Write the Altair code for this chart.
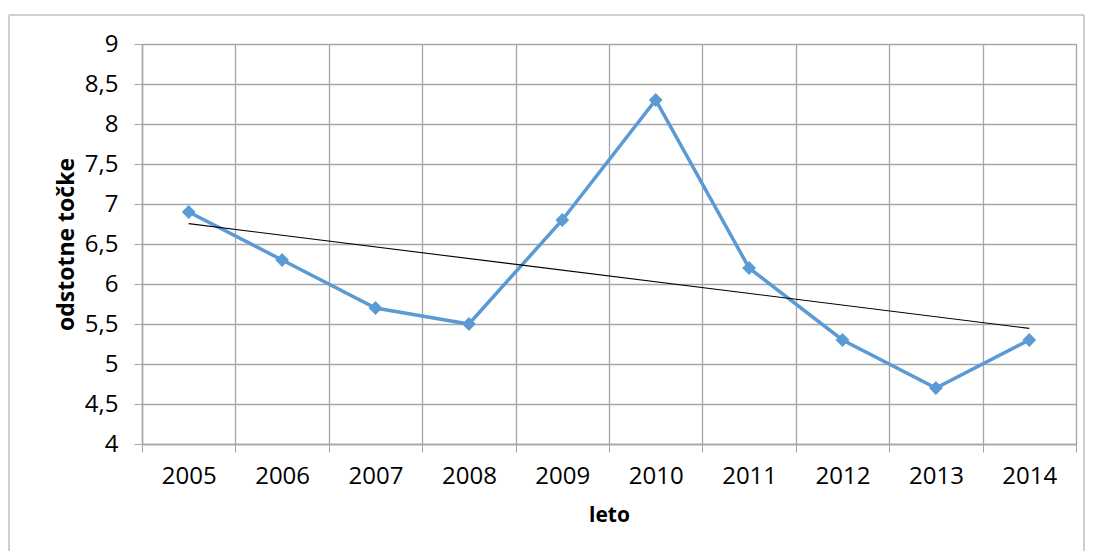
import altair as alt
import pandas as pd

years = [2005, 2006, 2007, 2008, 2009, 2010, 2011, 2012, 2013, 2014]
values = [6.9, 6.3, 5.7, 5.5, 6.8, 8.3, 6.2, 5.3, 4.7, 5.3]
y_ticks = [4, 4.5, 5, 5.5, 6, 6.5, 7, 7.5, 8, 8.5, 9]

df = pd.DataFrame({"leto": years, "vrednost": values})

FONT = "Open Sans"
GRID = "#A6A6A6"
BLUE = "#5B9BD5"
W, H = 934, 400

x_enc = alt.X(
    "leto:O",
    bandPosition=0.5,
    scale=alt.Scale(type="band", paddingInner=0, paddingOuter=0),
    axis=alt.Axis(
        title="leto",
        labelAngle=0,
        tickBand="extent",
        grid=True,
        gridColor=GRID,
        gridWidth=1.3,
        domainColor=GRID,
        domainWidth=1.5,
        tickColor=GRID,
        tickSize=8,
        labelFont=FONT,
        labelFontSize=24,
        labelColor="#000000",
        labelPadding=12,
        labelOverlap=False,
        titleFont=FONT,
        titleFontSize=21,
        titleFontWeight="bold",
        titleColor="#000000",
        titlePadding=16,
    ),
)

y_enc = alt.Y(
    "vrednost:Q",
    scale=alt.Scale(domain=[4, 9], nice=False, zero=False),
    axis=alt.Axis(
        title="odstotne točke",
        values=y_ticks,
        labelExpr="replace(toString(datum.value), '.', ',')",
        labelOverlap=False,
        grid=True,
        gridColor=GRID,
        gridWidth=1.3,
        domainColor=GRID,
        domainWidth=1.5,
        tickColor=GRID,
        tickSize=8,
        labelFont=FONT,
        labelFontSize=24,
        labelColor="#000000",
        labelPadding=16,
        titleFont=FONT,
        titleFontSize=23,
        titleFontWeight="bold",
        titleColor="#000000",
        titlePadding=6,
    ),
)

base = alt.Chart(df)

line = base.mark_line(color=BLUE, strokeWidth=3.5).encode(x=x_enc, y=y_enc)
pts = base.mark_point(shape="diamond", filled=True, opacity=1, color=BLUE, size=190).encode(x=x_enc, y=y_enc)

trend = (
    base.transform_regression("leto", "vrednost", method="linear")
    .mark_line(color="#000000", strokeWidth=1.1)
    .encode(x=x_enc, y=y_enc)
)

frame_data = alt.Data(values=[{"k": 1}])
BORDER = "#BFBFBF"
top_rule = alt.Chart(frame_data).mark_rule(color=BORDER, strokeWidth=1.5).encode(
    x=alt.value(-133), x2=alt.value(942), y=alt.value(-29)
)
left_rule = alt.Chart(frame_data).mark_rule(color=BORDER, strokeWidth=1.5).encode(
    x=alt.value(-133), y=alt.value(-29), y2=alt.value(507)
)
right_rule = alt.Chart(frame_data).mark_rule(color=BORDER, strokeWidth=1.5).encode(
    x=alt.value(942), y=alt.value(-29), y2=alt.value(507)
)

chart = (
    alt.layer(line, trend, pts, top_rule, left_rule, right_rule)
    .properties(width=W, height=H, padding={"left": 0, "top": 6, "right": 0, "bottom": 0})
    .configure_view(stroke=None)
    .configure(background="#FFFFFF")
)

chart.save("out.html", embed_options={"renderer": "svg", "actions": False})
